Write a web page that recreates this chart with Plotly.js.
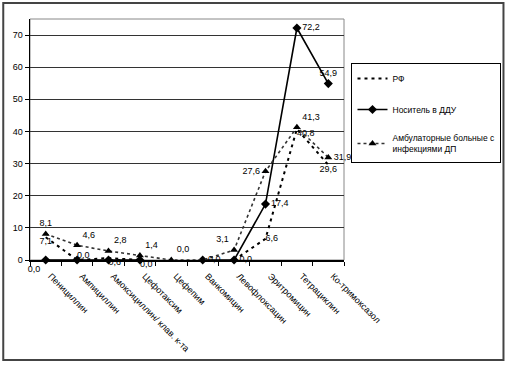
<!DOCTYPE html>
<html>
<head>
<meta charset="utf-8">
<script src="https://cdn.plot.ly/plotly-3.0.1.min.js"></script>
<style>
html,body{margin:0;padding:0;background:#fff;}
#chart{width:513px;height:365px;}
</style>
</head>
<body>
<div id="chart"></div>
<script>
// ---- data ----
const categories = ["Пенициллин","Ампициллин","Амоксициллин/ клав. к-та","Цефотаксим","Цефепим","Ванкомицин","Левофлоксацин","Эритромицин","Тетрациклин","Ко-тримоксазол"];
const seriesNames = ["РФ","Носитель в ДДУ","Амбулаторные больные с<br>инфекциями ДП"];
const rfValues   = [7.1, 0.0, 0.6, 0.0, null, null, 0.0, 6.6, 40.8, 29.6];
const dduValues  = [0.0, 0.0, 0.0, 0.0, null, 0.0, 0.0, 17.4, 72.2, 54.9];
const ambValues  = [8.1, 4.6, 2.8, 1.4, 0.0, 0.0, 3.1, 27.6, 41.3, 31.9];
// which data labels are visible in the picture
const rfLabelShown  = [1,1,1,1,0,0,0,1,1,1];
const dduLabelShown = [1,0,0,0,0,0,1,1,1,1];
const ambLabelShown = [1,1,1,1,1,1,1,1,1,1];
const yTicks = [0,10,20,30,40,50,60,70];

// ---- styling ----
const rfPos  = ["bottom center","top right","bottom right","bottom right","top right","top right","top right","middle right","bottom right","bottom center"];
const dduPos = ["bottom left","middle right","middle right","middle right","middle right","middle right","middle right","middle right","middle right","top center"];
const ambPos = ["top center","top right","top right","top right","top right","middle right","top left","middle left","top right","middle right"];

function fmt(v){ return v===null ? "" : v.toFixed(1).replace(".", ","); }
function labels(vals, shown){ return vals.map((v,i)=> shown[i] ? fmt(v) : ""); }

const FONT = "Liberation Sans, Arial, sans-serif";
const txtFont = {family: FONT, size: 9, color: "#000"};

const traces = [
  {
    x: categories, y: rfValues, name: seriesNames[0], type: "scatter",
    mode: "lines+text", text: labels(rfValues, rfLabelShown), textposition: rfPos,
    textfont: txtFont, cliponaxis: false, connectgaps: false,
    line: {color: "#000", width: 2, dash: "3px,4px"},
    legendgroup: "a", hoverinfo: "skip"
  },
  {
    x: categories, y: dduValues, name: seriesNames[1], type: "scatter",
    mode: "lines+markers+text", text: labels(dduValues, dduLabelShown), textposition: dduPos,
    textfont: txtFont, cliponaxis: false, connectgaps: false,
    line: {color: "#000", width: 1.6},
    marker: {symbol: "diamond", size: 7, color: "#000"},
    legendgroup: "b", hoverinfo: "skip"
  },
  {
    x: categories, y: ambValues, name: seriesNames[2], type: "scatter",
    mode: "lines+markers+text", text: labels(ambValues, ambLabelShown), textposition: ambPos,
    textfont: txtFont, cliponaxis: false, connectgaps: false,
    line: {color: "#333", width: 1.6, dash: "dot"},
    marker: {symbol: "triangle-up", size: 7, color: "#000"},
    legendgroup: "c", hoverinfo: "skip"
  }
];

const plotL = 30, plotR = 347, plotT = 19, plotB = 260, W = 513, H = 365;
const pw = plotR - plotL, ph = plotB - plotT;
const px = v => (v - plotL) / pw;
const py = v => (plotB - v) / ph;

const layout = {
  width: W, height: H,
  margin: {l: plotL, r: W - plotR, t: plotT, b: H - plotB, pad: 0},
  paper_bgcolor: "#fff", plot_bgcolor: "#fff",
  font: {family: FONT, size: 9, color: "#000"},
  showlegend: true,
  xaxis: {
    type: "category", range: [-0.5, 9.5], fixedrange: true,
    tickangle: 45, tickson: "boundaries", ticks: "outside", ticklen: 4, tickcolor: "#000",
    ticklabelshift: 5, ticklabelstandoff: 6,
    showline: true, linecolor: "#000", linewidth: 1.5,
    showgrid: false, zeroline: false,
    tickfont: {family: FONT, size: 9, color: "#000"}
  },
  yaxis: {
    range: [0, 75], tickvals: yTicks, ticktext: yTicks.map(String), fixedrange: true,
    ticks: "outside", ticklen: 4, tickcolor: "#000",
    showline: true, linecolor: "#000", linewidth: 1.5,
    showgrid: true, gridcolor: "#333", gridwidth: 1, zeroline: false,
    tickfont: {family: FONT, size: 9, color: "#000"}
  },
  legend: {
    x: px(506), y: py(63), xanchor: "right", yanchor: "top",
    bordercolor: "#000", borderwidth: 1, bgcolor: "#fff",
    font: {family: FONT, size: 8.5, color: "#000"},
    traceorder: "grouped", tracegroupgap: 12, itemwidth: 30
  },
  shapes: [
    {type: "rect", xref: "paper", yref: "paper", x0: 0, x1: 1, y0: 0, y1: 1,
     line: {color: "#888", width: 1}, layer: "below"},
    {type: "rect", xref: "paper", yref: "paper",
     x0: px(3), x1: px(508), y0: py(360), y1: py(3),
     line: {color: "#444", width: 2}, layer: "above"}
  ]
};

Plotly.newPlot("chart", traces, layout, {staticPlot: true, displayModeBar: false});
</script>
</body>
</html>
